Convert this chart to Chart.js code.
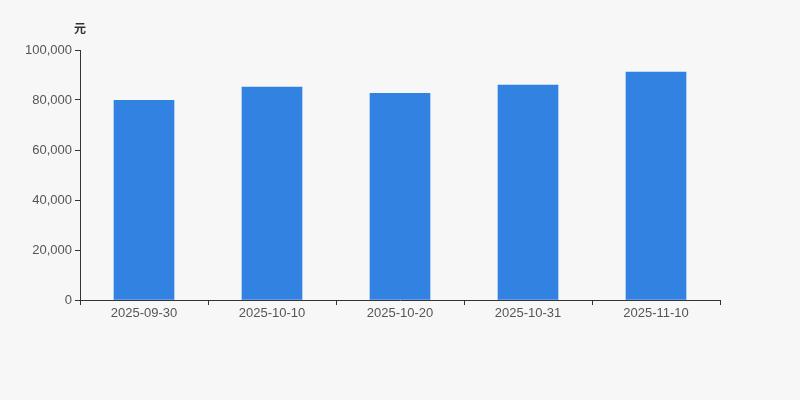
<!DOCTYPE html>
<html>
<head>
<meta charset="utf-8">
<script src="https://cdn.jsdelivr.net/npm/chart.js@4/dist/chart.umd.min.js"></script>
<style>
  html, body { margin: 0; padding: 0; background: #f7f7f7; }
  #wrap { width: 800px; height: 400px; }
</style>
</head>
<body>
<div id="wrap"><canvas id="barChartCanvas"></canvas></div>
<script>
const dates = ['2025-09-30', '2025-10-10', '2025-10-20', '2025-10-31', '2025-11-10']
const amounts = [79900, 85200, 82700, 86000, 91200]
const unitLabel = '元'

// draws the unit label above the y axis
const unitPlugin = {
  id: 'unitLabel',
  afterDraw (chart) {
    const { ctx, chartArea } = chart
    ctx.save()
    ctx.font = 'bold 12px "Noto Sans CJK SC", sans-serif'
    ctx.fillStyle = '#333'
    ctx.textAlign = 'center'
    ctx.textBaseline = 'middle'
    ctx.fillText(unitLabel, chartArea.left, chartArea.top - 22)
    ctx.restore()
  }
}

const tickFont = { family: '"Liberation Sans", Arial, sans-serif', size: 13 }

new Chart(document.getElementById('barChartCanvas').getContext('2d'), {
  type: 'bar',
  data: {
    labels: dates,
    datasets: [{
      data: amounts,
      backgroundColor: '#3282e2',
      barThickness: 60
    }]
  },
  options: {
    responsive: true,
    maintainAspectRatio: false,
    animation: false,
    layout: { padding: { top: 50, right: 80, left: 0, bottom: 0 } },
    plugins: {
      legend: { display: false },
      tooltip: { enabled: false }
    },
    scales: {
      x: {
        grid: { display: true, drawOnChartArea: false, drawTicks: true, tickLength: 5, color: '#333', offset: true },
        border: { display: true, color: '#333', width: 1 },
        ticks: { color: '#555', font: tickFont, padding: 1, maxRotation: 0 },
        afterFit (scale) { scale.height = 100 }
      },
      y: {
        min: 0,
        max: 100000,
        grid: { display: true, drawOnChartArea: false, drawTicks: true, tickLength: 5, color: '#333' },
        border: { display: true, color: '#333', width: 1 },
        ticks: {
          stepSize: 20000,
          color: '#555',
          font: tickFont,
          padding: 3,
          callback: v => v.toLocaleString('en-US')
        },
        afterFit (scale) { scale.width = 80 }
      }
    }
  },
  plugins: [unitPlugin]
})
</script>
</body>
</html>
